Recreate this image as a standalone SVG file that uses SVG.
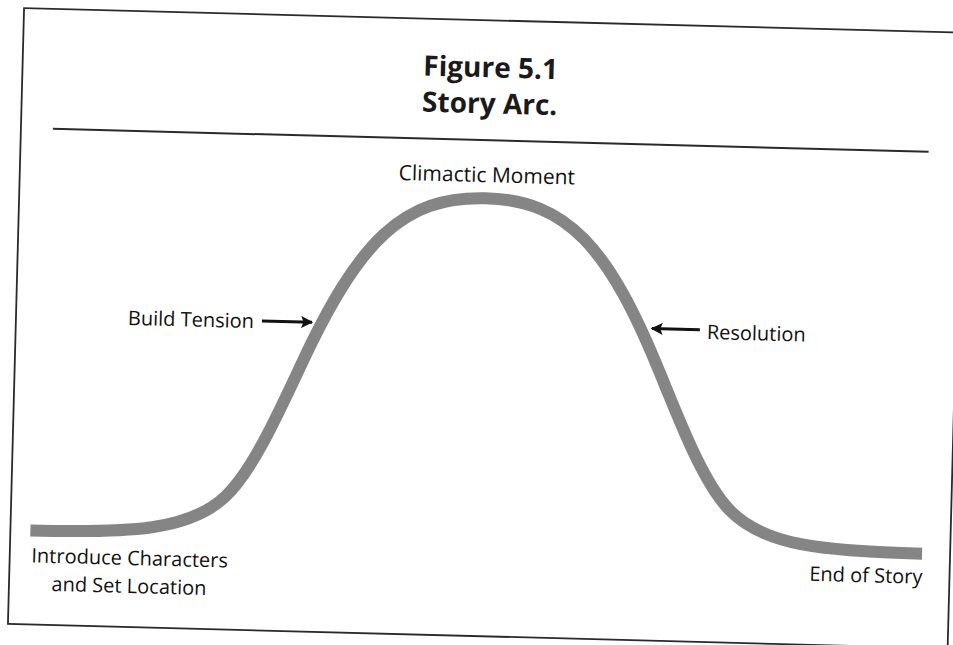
<svg xmlns="http://www.w3.org/2000/svg" width="953" height="645" viewBox="0 0 953 645">
<defs>
<style>
.lbl{font-family:"Open Sans","Liberation Sans",sans-serif;font-size:20px;font-weight:500;fill:#111}
.ttl{font-family:"Open Sans","Liberation Sans",sans-serif;font-size:28px;font-weight:700;fill:#1a1a1a;text-anchor:middle}
.frame{fill:none;stroke:#2a2a2a;stroke-width:1.8}
.arc{fill:none;stroke:#858585;stroke-width:12}
.arrow{stroke:#111;stroke-width:3;fill:none}
</style>
<marker id="ah" viewBox="0 0 10 10" refX="9" refY="5" markerUnits="userSpaceOnUse" markerWidth="15" markerHeight="12" orient="auto">
<path d="M0,0 L10,5 L0,10 L2,5 Z" fill="#111"/>
</marker>
</defs>
<rect width="953" height="645" fill="#fff"/>
<g transform="rotate(1.5 476 322)">
<rect id="frame" class="frame" x="16" y="20" width="940" height="616"/>
<line x1="48" y1="140" x2="924" y2="140" stroke="#2a2a2a" stroke-width="2"/>
<g id="title">
<text class="ttl" x="484" y="77">Figure 5.1</text>
<text class="ttl" x="484" y="113">Story Arc.</text>
</g>
<g id="arc">
<path class="arc" d="M36,542 C136,542 195,538 230,503 C255,478 277,427.5 302,370 C357,243.5 400,198 482,198 C564,198 607,243.5 662,370 C687,427.5 709,478 734,503 C769,538 828,542 928,542"/>
</g>
<g id="climax"><text class="lbl" x="483" y="182" text-anchor="middle" style="font-size:21px">Climactic Moment</text></g>
<g id="build"><text class="lbl" x="128" y="334">Build Tension</text></g>
<g id="resolution"><text class="lbl" x="707" y="333">Resolution</text></g>
<g id="intro">
<text class="lbl" x="136" y="574" text-anchor="middle">Introduce Characters</text>
<text class="lbl" x="136" y="602" text-anchor="middle">and Set Location</text>
</g>
<g id="end"><text class="lbl" x="929" y="572" text-anchor="end">End of Story</text></g>
<g id="connectors">
<line class="arrow" x1="262" y1="326.5" x2="312" y2="326.5" marker-end="url(#ah)"/>
<line class="arrow" x1="700" y1="324" x2="652" y2="324" marker-end="url(#ah)"/>
</g>
</g>
</svg>
